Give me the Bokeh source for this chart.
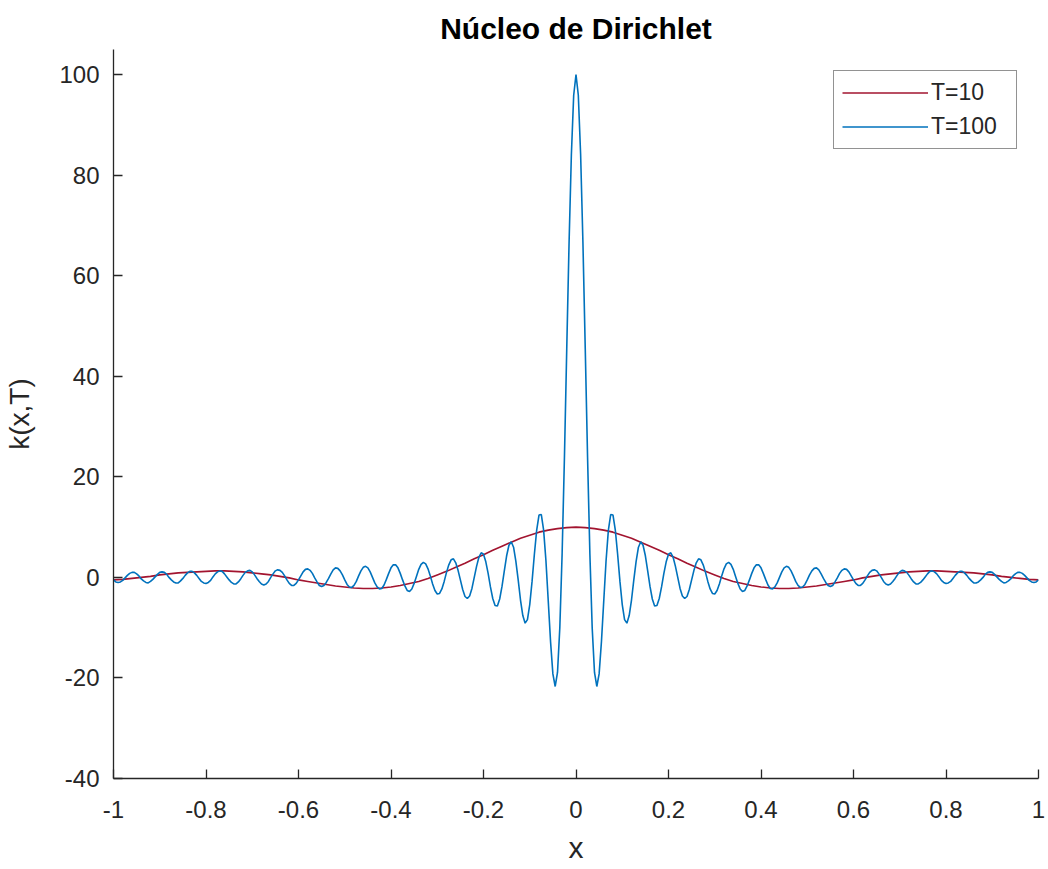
import numpy as np
from bokeh.plotting import figure
from bokeh.models import FixedTicker, Range1d, Legend, LegendItem
from bokeh.embed import file_html
from bokeh.resources import INLINE

# ---- data ----
title_text = "Núcleo de Dirichlet"
x_label = "x"
y_label = "k(x,T)"
series_names = ["T=10", "T=100"]

# T=100 curve, sampled at x = -1 ... 1 (401 samples, step 0.005)
y_t100 = [
    -0.5, -0.9, -1.0, -0.9, -0.6, -0.1, 0.4, 0.8, 1.0, 1.0,
    0.7, 0.3, -0.3, -0.7, -1.0, -1.1, -0.8, -0.4, 0.1, 0.6,
    1.0, 1.1, 1.0, 0.6, 0.0, -0.5, -0.9, -1.1, -1.1, -0.7,
    -0.2, 0.4, 0.9, 1.2, 1.2, 0.9, 0.4, -0.2, -0.8, -1.1,
    -1.2, -1.0, -0.6, 0.1, 0.7, 1.1, 1.3, 1.2, 0.7, 0.1,
    -0.5, -1.0, -1.3, -1.3, -0.9, -0.3, 0.4, 1.0, 1.3, 1.4,
    1.1, 0.5, -0.2, -0.8, -1.3, -1.5, -1.3, -0.8, 0.0, 0.7,
    1.3, 1.5, 1.4, 1.0, 0.3, -0.5, -1.2, -1.6, -1.6, -1.2,
    -0.5, 0.3, 1.1, 1.6, 1.7, 1.4, 0.8, -0.1, -0.9, -1.6,
    -1.8, -1.6, -1.0, -0.2, 0.7, 1.5, 1.9, 1.8, 1.3, 0.5,
    -0.5, -1.4, -1.9, -2.0, -1.6, -0.8, 0.3, 1.3, 2.0, 2.2,
    1.9, 1.1, 0.0, -1.1, -1.9, -2.3, -2.2, -1.5, -0.4, 0.8,
    1.9, 2.5, 2.5, 1.9, 0.8, -0.5, -1.7, -2.6, -2.8, -2.3,
    -1.2, 0.2, 1.6, 2.6, 3.0, 2.7, 1.7, 0.3, -1.3, -2.6,
    -3.3, -3.2, -2.3, -0.8, 1.0, 2.5, 3.5, 3.7, 2.9, 1.4,
    -0.5, -2.4, -3.8, -4.2, -3.7, -2.2, 0.0, 2.2, 4.0, 4.9,
    4.6, 3.1, 0.8, -1.9, -4.2, -5.6, -5.7, -4.3, -1.8, 1.3,
    4.3, 6.4, 7.1, 6.0, 3.2, -0.5, -4.5, -7.6, -9.1, -8.4,
    -5.4, -0.8, 4.6, 9.4, 12.4, 12.5, 9.4, 3.3, -4.7, -12.8,
    -19.2, -21.7, -18.9, -10.0, 4.7, 23.9, 45.5, 66.5, 84.1, 95.9,
    100.0,
    95.9, 84.1, 66.5, 45.5, 23.9, 4.7, -10.0, -18.9, -21.7, -19.2,
    -12.8, -4.7, 3.3, 9.4, 12.5, 12.4, 9.4, 4.6, -0.8, -5.4,
    -8.4, -9.1, -7.6, -4.5, -0.5, 3.2, 6.0, 7.1, 6.4, 4.3,
    1.3, -1.8, -4.3, -5.7, -5.6, -4.2, -1.9, 0.8, 3.1, 4.6,
    4.9, 4.0, 2.2, 0.0, -2.2, -3.7, -4.2, -3.8, -2.4, -0.5,
    1.4, 2.9, 3.7, 3.5, 2.5, 1.0, -0.8, -2.3, -3.2, -3.3,
    -2.6, -1.3, 0.3, 1.7, 2.7, 3.0, 2.6, 1.6, 0.2, -1.2,
    -2.3, -2.8, -2.6, -1.7, -0.5, 0.8, 1.9, 2.5, 2.5, 1.9,
    0.8, -0.4, -1.5, -2.2, -2.3, -1.9, -1.1, 0.0, 1.1, 1.9,
    2.2, 2.0, 1.3, 0.3, -0.8, -1.6, -2.0, -1.9, -1.4, -0.5,
    0.5, 1.3, 1.8, 1.9, 1.5, 0.7, -0.2, -1.0, -1.6, -1.8,
    -1.6, -0.9, -0.1, 0.8, 1.4, 1.7, 1.6, 1.1, 0.3, -0.5,
    -1.2, -1.6, -1.6, -1.2, -0.5, 0.3, 1.0, 1.4, 1.5, 1.3,
    0.7, 0.0, -0.8, -1.3, -1.5, -1.3, -0.8, -0.2, 0.5, 1.1,
    1.4, 1.3, 1.0, 0.4, -0.3, -0.9, -1.3, -1.3, -1.0, -0.5,
    0.1, 0.7, 1.2, 1.3, 1.1, 0.7, 0.1, -0.6, -1.0, -1.2,
    -1.1, -0.8, -0.2, 0.4, 0.9, 1.2, 1.2, 0.9, 0.4, -0.2,
    -0.7, -1.1, -1.1, -0.9, -0.5, 0.0, 0.6, 1.0, 1.1, 1.0,
    0.6, 0.1, -0.4, -0.8, -1.1, -1.0, -0.7, -0.3, 0.3, 0.7,
    1.0, 1.0, 0.8, 0.4, -0.1, -0.6, -0.9, -1.0, -0.9, -0.5,
]

# T=10 curve, sampled at x = -1 ... 1 (101 samples, step 0.02)
y_t10 = [
    -0.5, -0.4, -0.2, 0.0, 0.2, 0.5, 0.7, 0.9, 1.0, 1.1,
    1.2, 1.3, 1.3, 1.2, 1.1, 0.9, 0.7, 0.5, 0.2, -0.1,
    -0.5, -0.8, -1.1, -1.4, -1.7, -1.9, -2.1, -2.2, -2.2, -2.1,
    -1.9, -1.6, -1.2, -0.8, -0.2, 0.5, 1.2, 2.0, 2.8, 3.7,
    4.5, 5.4, 6.2, 7.0, 7.8, 8.4, 9.0, 9.4, 9.7, 9.9,
    10.0,
    9.9, 9.7, 9.4, 9.0, 8.4, 7.8, 7.0, 6.2, 5.4, 4.5,
    3.7, 2.8, 2.0, 1.2, 0.5, -0.2, -0.8, -1.2, -1.6, -1.9,
    -2.1, -2.2, -2.2, -2.1, -1.9, -1.7, -1.4, -1.1, -0.8, -0.5,
    -0.1, 0.2, 0.5, 0.7, 0.9, 1.1, 1.2, 1.3, 1.3, 1.2,
    1.1, 1.0, 0.9, 0.7, 0.5, 0.2, 0.0, -0.2, -0.4, -0.5,
]

x_t100 = np.linspace(-1.0, 1.0, len(y_t100))
x_t10 = np.linspace(-1.0, 1.0, len(y_t10))

x_ticks = [-1, -0.8, -0.6, -0.4, -0.2, 0, 0.2, 0.4, 0.6, 0.8, 1]
x_tick_labels = ["-1", "-0.8", "-0.6", "-0.4", "-0.2", "0", "0.2", "0.4", "0.6", "0.8", "1"]
y_ticks = [-40, -20, 0, 20, 40, 60, 80, 100]
y_tick_labels = ["-40", "-20", "0", "20", "40", "60", "80", "100"]
x_limits = (-1, 1)
y_limits = (-40, 105)

# ---- styling ----
FONT = "Liberation Sans"
AX = "#262626"
RED = "#A2142F"
BLUE = "#0072BD"

p = figure(width=1046, height=866, output_backend="svg", toolbar_location=None,
           x_range=Range1d(*x_limits), y_range=Range1d(*y_limits),
           min_border_left=113, min_border_right=8, min_border_top=49, min_border_bottom=85)
p.outline_line_color = None
p.grid.visible = False
p.background_fill_color = "white"
p.border_fill_color = "white"

p.title.text = title_text
p.title.align = "center"
p.title.text_font = FONT
p.title.text_font_size = "30px"
p.title.text_font_style = "bold"
p.title.text_color = "black"
p.title.standoff = 10

r10 = p.line(x_t10, y_t10, line_color=RED, line_width=1.6)
r100 = p.line(x_t100, y_t100, line_color=BLUE, line_width=1.6)

for ax in (p.xaxis[0], p.yaxis[0]):
    ax.axis_line_color = AX
    ax.axis_line_width = 1.3
    ax.major_tick_line_color = AX
    ax.major_tick_line_width = 1.3
    ax.major_tick_in = 9
    ax.major_tick_out = 0
    ax.minor_tick_line_color = None
    ax.major_label_text_font = FONT
    ax.major_label_text_font_size = "24px"
    ax.major_label_text_color = AX
    ax.axis_label_text_font = FONT
    ax.axis_label_text_font_size = "30px"
    ax.axis_label_text_font_style = "normal"
    ax.axis_label_text_color = AX

p.xaxis[0].ticker = FixedTicker(ticks=x_ticks)
p.xaxis[0].major_label_overrides = dict(zip(x_ticks, x_tick_labels))
p.xaxis[0].major_label_standoff = 22
p.xaxis[0].axis_label = x_label
p.xaxis[0].axis_label_standoff = 10

p.yaxis[0].ticker = FixedTicker(ticks=y_ticks)
p.yaxis[0].major_label_overrides = dict(zip(y_ticks, y_tick_labels))
p.yaxis[0].major_label_standoff = 14
p.yaxis[0].axis_label = y_label
p.yaxis[0].axis_label_text_font_size = "28px"
p.yaxis[0].axis_label_standoff = 21

legend = Legend(items=[LegendItem(label=series_names[0], renderers=[r10]),
                       LegendItem(label=series_names[1], renderers=[r100])],
                location=(720, 629))
legend.label_text_font = FONT
legend.label_text_font_size = "23px"
legend.label_text_color = AX
legend.border_line_color = AX
legend.border_line_width = 1.3
legend.background_fill_color = "white"
legend.background_fill_alpha = 1.0
legend.padding = 8
legend.margin = 0
legend.spacing = 7
legend.glyph_width = 86
legend.glyph_height = 25
legend.label_height = 25
legend.label_standoff = 3
legend.label_width = 77
p.add_layout(legend, "center")

open("out.html", "w").write(file_html(p, INLINE))
